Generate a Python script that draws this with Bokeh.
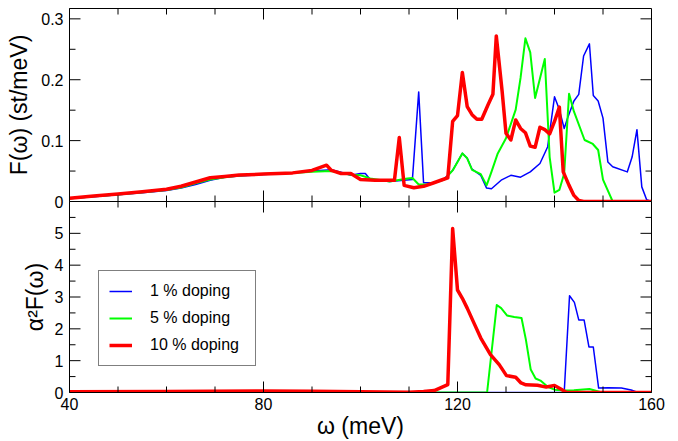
import math
from bokeh.plotting import figure
from bokeh.models import Range1d, LinearAxis, FixedTicker, CustomJSTickFormatter, Legend, LegendItem
from bokeh.layouts import column
from bokeh.embed import file_html
from bokeh.resources import INLINE

FONT = "Liberation Sans"

# ---------------- data ----------------
x_major = [40, 80, 120, 160]
x_minor = [50, 60, 70, 90, 100, 110, 130, 140, 150]
top_y_major = [0, 0.1, 0.2, 0.3]
top_y_minor = [0.05, 0.15, 0.25]
bot_y_major = [0, 1, 2, 3, 4, 5]
bot_y_minor = [0.5, 1.5, 2.5, 3.5, 4.5, 5.5]

labels = ["1 % doping", "5 % doping", "10 % doping"]

# F(omega), 1 % doping
blue_top_x = [40, 45, 50, 55, 60, 63, 66, 69, 72, 75, 80, 86, 90, 94, 96, 98, 100, 101, 102, 106,
              110.7, 112, 113, 115, 117.3, 119, 121, 122, 123, 124.8, 126, 127, 129, 131, 133, 135,
              137, 138.6, 140, 141, 142, 142.7, 144, 145, 146, 147.2, 148, 149, 150, 151, 152, 155,
              156, 157, 158, 159, 160]
blue_top_y = [0.005, 0.008, 0.011, 0.0145, 0.018, 0.022, 0.028, 0.035, 0.040, 0.042, 0.0445, 0.047,
              0.050, 0.052, 0.048, 0.043, 0.046, 0.046, 0.036, 0.033,
              0.036, 0.180, 0.031, 0.031, 0.0376, 0.051, 0.079, 0.071, 0.053, 0.043, 0.022, 0.021,
              0.035, 0.043, 0.040, 0.0486,
              0.0625, 0.090, 0.172, 0.151, 0.120, 0.137, 0.165, 0.176, 0.239, 0.259, 0.174, 0.165,
              0.137, 0.065, 0.057, 0.0486,
              0.073, 0.118, 0.024, 0.003, 0.0]

# F(omega), 5 % doping
green_top_x = [40, 45, 50, 55, 60, 63, 66, 69, 72, 75, 80, 86, 90, 94, 96, 98, 100, 102, 106,
               109.7, 110.7, 112, 114, 117.3, 119, 121, 122, 123, 124.8, 126, 127, 128.3, 130, 132,
               133, 134, 135, 136, 138, 139, 140, 141, 142, 143, 144, 146.2, 147.9, 149, 150, 152, 160]
green_top_y = [0.005, 0.0085, 0.0115, 0.015, 0.019, 0.023, 0.030, 0.036, 0.040, 0.0425, 0.045, 0.047,
               0.049, 0.050, 0.047, 0.044, 0.043, 0.038, 0.033,
               0.0376, 0.0387, 0.028, 0.028, 0.036, 0.051, 0.079, 0.071, 0.052, 0.045, 0.0265, 0.0486,
               0.079, 0.104, 0.151,
               0.203, 0.268, 0.245, 0.170, 0.234, 0.073, 0.0144, 0.019, 0.046, 0.177, 0.148, 0.101,
               0.0945, 0.0846, 0.036, 0.0, 0.0]

# F(omega), 10 % doping
red_top_x = [40, 45, 50, 55, 60, 63, 66, 69, 72, 75, 80, 86, 90, 93, 94, 96, 98, 100, 103, 107,
             108, 109, 111, 113, 115, 118, 119, 120, 121, 122, 123, 124, 125, 126.3, 127.3, 128,
             129.2, 130, 131, 132, 133, 134, 135, 136, 137, 138, 139, 140, 141, 141.8, 143, 144,
             145, 146, 160]
red_top_y = [0.0055, 0.009, 0.0125, 0.016, 0.020, 0.025, 0.032, 0.039, 0.041, 0.0435, 0.045, 0.047,
             0.051, 0.0597, 0.051, 0.046, 0.046, 0.036, 0.035, 0.035,
             0.105, 0.0265, 0.0227, 0.0249, 0.0304, 0.039, 0.1315, 0.141, 0.212, 0.156, 0.1426,
             0.135, 0.135, 0.159, 0.176, 0.272,
             0.181, 0.112, 0.101, 0.134, 0.120, 0.113, 0.091, 0.089, 0.122, 0.118, 0.111, 0.1315,
             0.155, 0.0486, 0.0265, 0.010,
             0.0017, 0.0, 0.0]

# alpha^2 F(omega)
blue_bot_x = [40, 142, 143.1, 144.1, 145.0, 146.1, 147.1, 148.0, 149.1, 151, 153.8, 155.8, 157.2, 160]
blue_bot_y = [0.0, 0.0, 3.04, 2.83, 2.28, 2.28, 1.43, 1.43, 0.14, 0.15, 0.14, 0.08, 0.0, 0.0]

green_bot_x = [40, 126.1, 128.1, 129, 130.2, 131.7, 133.2, 134.1, 135.1, 136.1, 137.1, 138.6, 140,
               142, 144, 147.2, 149.6, 150, 160]
green_bot_y = [0.0, 0.0, 2.75, 2.65, 2.42, 2.37, 2.34, 1.66, 0.72, 0.44, 0.375, 0.18, 0.09,
               0.06, 0.07, 0.11, 0.01, 0.0, 0.0]

red_bot_x = [40, 60, 80, 90, 100, 110, 113, 115.2, 118, 119, 120, 121, 122, 123.4, 124.8, 126.8,
             128.6, 130.1, 132, 133.1, 134.1, 136.5, 138.3, 140, 141.3, 142.4, 143, 160]
red_bot_y = [0.02, 0.03, 0.05, 0.04, 0.02, 0.01, 0.03, 0.06, 0.25, 5.15, 3.22, 2.96, 2.65, 2.18,
             1.71, 1.19, 0.875, 0.53, 0.48, 0.30, 0.24, 0.23, 0.17, 0.22, 0.11, 0.01, 0.0, 0.0]

colors = ["#0000ff", "#00ff00", "#ff0000"]
widths = [1.5, 2.0, 3.5]

# ---------------- figures ----------------
x_range = Range1d(40, 160)
top_y_range = Range1d(0, 0.317)
bot_y_range = Range1d(0, 6)

MAJOR_LEN = 11
MINOR_LEN = 6


def left_axis(ticks, formatter, label, label_standoff):
    ax = LinearAxis(ticker=FixedTicker(ticks=ticks, minor_ticks=[]))
    ax.major_tick_in = 0
    ax.major_tick_out = 0
    ax.minor_tick_in = 0
    ax.minor_tick_out = 0
    ax.axis_line_color = "black"
    if formatter is not None:
        ax.formatter = formatter
    ax.major_label_text_font = FONT
    ax.major_label_text_font_size = "16px"
    ax.major_label_text_color = "black"
    ax.major_label_standoff = 6
    ax.axis_label = label
    ax.axis_label_text_font = FONT
    ax.axis_label_text_font_size = "23px"
    ax.axis_label_text_font_style = "normal"
    ax.axis_label_text_color = "black"
    ax.axis_label_standoff = label_standoff
    return ax


def add_ticks(p, yr, y_major, y_minor):
    # inward tick marks on all four sides of the frame, length in screen pixels
    for xs_list, ln in ((x_major, MAJOR_LEN), (x_minor, MINOR_LEN)):
        p.ray(xs_list, [yr.start] * len(xs_list), length=ln, length_units="screen",
              angle=math.pi / 2, line_color="black", line_width=1)
        p.ray(xs_list, [yr.end] * len(xs_list), length=ln, length_units="screen",
              angle=-math.pi / 2, line_color="black", line_width=1)
    for ys_list, ln in ((y_major, MAJOR_LEN), (y_minor, MINOR_LEN)):
        p.ray([x_range.start] * len(ys_list), ys_list, length=ln, length_units="screen",
              angle=0, line_color="black", line_width=1)
        p.ray([x_range.end] * len(ys_list), ys_list, length=ln, length_units="screen",
              angle=math.pi, line_color="black", line_width=1)


def base_fig(height, y_range, mb_top, mb_bottom):
    p = figure(width=670, height=height, x_range=x_range, y_range=y_range,
               output_backend="svg", toolbar_location=None,
               x_axis_location=None, y_axis_location=None,
               min_border_left=69, min_border_right=19,
               min_border_top=mb_top, min_border_bottom=mb_bottom)
    p.grid.visible = False
    p.outline_line_color = "black"
    p.outline_line_width = 1
    p.background_fill_color = "white"
    return p


top_fmt = CustomJSTickFormatter(code="return Math.abs(tick) < 1e-9 ? '0' : tick.toFixed(1);")

# top panel: frame 8..201, plus 9 px below so that its "0" label is not clipped
p1 = base_fig(210, top_y_range, 8, 9)
p1.border_fill_color = "white"
p1.add_layout(left_axis(top_y_major, top_fmt, "F(ω) (st/meV)", 6), "left")

for xs, ys, c, w in zip([blue_top_x, green_top_x, red_top_x], [blue_top_y, green_top_y, red_top_y],
                        colors, widths):
    p1.line(xs, ys, line_color=c, line_width=w, line_join="round")
add_ticks(p1, top_y_range, top_y_major, top_y_minor)

# bottom panel: pulled up by 9 px so both frames touch; transparent border
p2 = base_fig(240, bot_y_range, 0, 0)
p2.border_fill_alpha = 0
p2.margin = (-9, 0, 0, 0)
p2.add_layout(left_axis(bot_y_major, None, "α²F(ω)", 4), "left")

bx = LinearAxis(ticker=FixedTicker(ticks=x_major, minor_ticks=[]))
bx.major_tick_in = 0
bx.major_tick_out = 0
bx.minor_tick_in = 0
bx.minor_tick_out = 0
bx.axis_line_color = "black"
bx.major_label_text_font = FONT
bx.major_label_text_font_size = "16px"
bx.major_label_text_color = "black"
bx.major_label_standoff = 5
bx.axis_label = "ω (meV)"
bx.axis_label_text_font = FONT
bx.axis_label_text_font_size = "23px"
bx.axis_label_text_font_style = "normal"
bx.axis_label_text_color = "black"
bx.axis_label_standoff = 0
p2.add_layout(bx, "below")

items = []
for xs, ys, c, w, lab in zip([blue_bot_x, green_bot_x, red_bot_x], [blue_bot_y, green_bot_y, red_bot_y],
                             colors, widths, labels):
    r = p2.line(xs, ys, line_color=c, line_width=w, line_join="round")
    items.append(LegendItem(label=lab, renderers=[r]))
add_ticks(p2, bot_y_range, bot_y_major, bot_y_minor)

legend = Legend(items=items, location=(29, 26))
legend.label_text_font = FONT
legend.label_text_font_size = "16px"
legend.label_text_color = "black"
legend.glyph_width = 23
legend.glyph_height = 20
legend.label_height = 20
legend.label_width = 95
legend.label_standoff = 18
legend.spacing = 7
legend.padding = 10
legend.margin = 0
legend.border_line_color = "black"
legend.border_line_width = 1
legend.background_fill_color = "white"
legend.background_fill_alpha = 1
p2.add_layout(legend)

layout = column(p1, p2, spacing=0)

open("out.html", "w").write(file_html(layout, INLINE))
